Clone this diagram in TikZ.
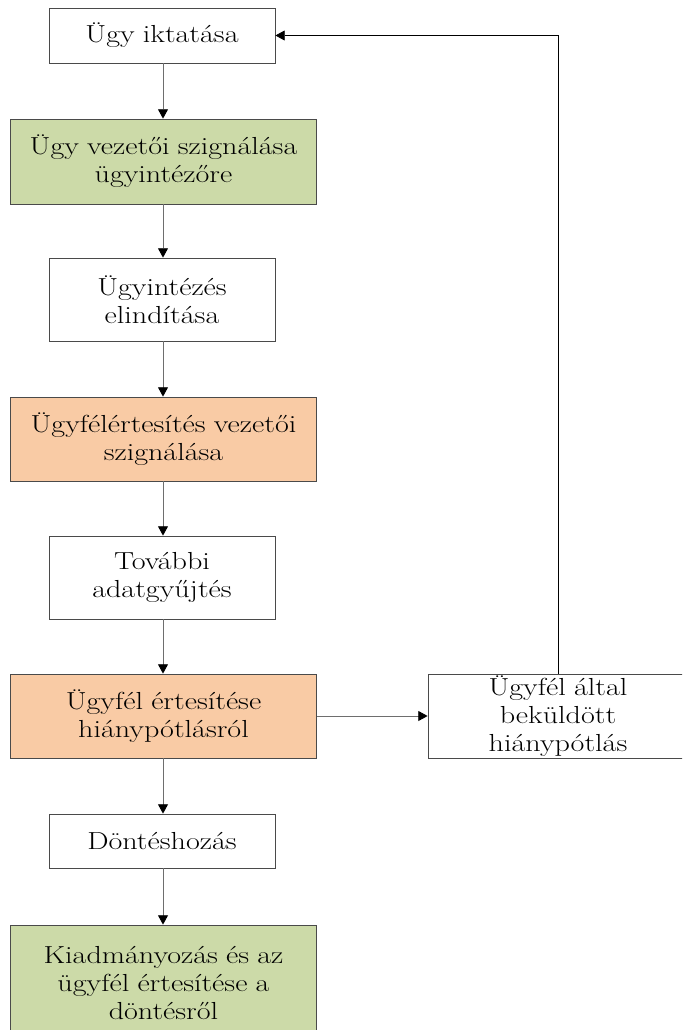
\documentclass[tikz,border=0pt]{standalone}
\usepackage{fontspec}
\setmainfont{Latin Modern Roman}[FakeStretch=1.22]
\usetikzlibrary{arrows.meta}
\definecolor{boxgreen}{HTML}{CCDAA8}
\definecolor{boxorange}{HTML}{F9CBA5}
\definecolor{edge}{HTML}{4A4A4A}
\definecolor{wire}{HTML}{6E6E6E}
\tikzset{
  proc/.style={draw=edge, line width=0.6pt, fill=white, align=center,
    font=\fontsize{18.5}{21}\selectfont, inner sep=0pt},
  narrowbox/.style={proc, minimum width=169.5pt, text width=165pt},
  widebox/.style={proc, minimum width=230pt, text width=228pt},
  flow/.style={draw=wire, line width=0.7pt, -{Triangle[length=7pt,width=7.5pt,color=black]}},
  back/.style={draw=black, line width=0.6pt, -{Triangle[length=7pt,width=7.5pt]}}
}
\begin{document}
\begin{tikzpicture}[x=0.75pt, y=-0.75pt]
\useasboundingbox (0,0) rectangle (682,1030);
\clip (0,0) rectangle (682,1030);

% main column of steps
\node[narrowbox, minimum height=41.25pt] (b1) at (162,35.5) {Ügy iktatása};
\node[widebox, fill=boxgreen, minimum height=63.75pt] (b2) at (163.5,161.5) {Ügy vezetői szignálása\\ügyintézőre};
\node[narrowbox, minimum height=62.25pt] (b3) at (162,299.5) {Ügyintézés\\elindítása};
\node[widebox, fill=boxorange, minimum height=63pt] (b4) at (163.5,439) {Ügyfélértesítés vezetői\\szignálása};
\node[narrowbox, minimum height=62.25pt] (b5) at (162,577.5) {További\\adatgyűjtés};
\node[widebox, fill=boxorange, minimum height=63pt] (b6) at (163.5,716) {Ügyfél értesítése\\hiánypótlásról};
\node[narrowbox, minimum height=40.5pt] (b7) at (162,841) {Döntéshozás};
\node[widebox, fill=boxgreen, minimum height=87pt] (b8) at (163.5,983) {Kiadmányozás és az\\ügyfél értesítése a\\döntésről};

% side step for the returned documents
\node[proc, minimum width=195pt, text width=190pt, minimum height=63pt] (r) at (558,716) {Ügyfél által\\beküldött\\hiánypótlás};

% connectors
\draw[flow] (b1.south -| 163,0) -- (b2.north -| 163,0);
\draw[flow] (b2.south -| 163,0) -- (b3.north -| 163,0);
\draw[flow] (b3.south -| 163,0) -- (b4.north -| 163,0);
\draw[flow] (b4.south -| 163,0) -- (b5.north -| 163,0);
\draw[flow] (b5.south -| 163,0) -- (b6.north -| 163,0);
\draw[flow] (b6.south -| 163,0) -- (b7.north -| 163,0);
\draw[flow] (b7.south -| 163,0) -- (b8.north -| 163,0);
\draw[flow] (b6.east) -- (r.west);
\draw[back] (r.north) |- (b1.east);
\end{tikzpicture}
\end{document}
